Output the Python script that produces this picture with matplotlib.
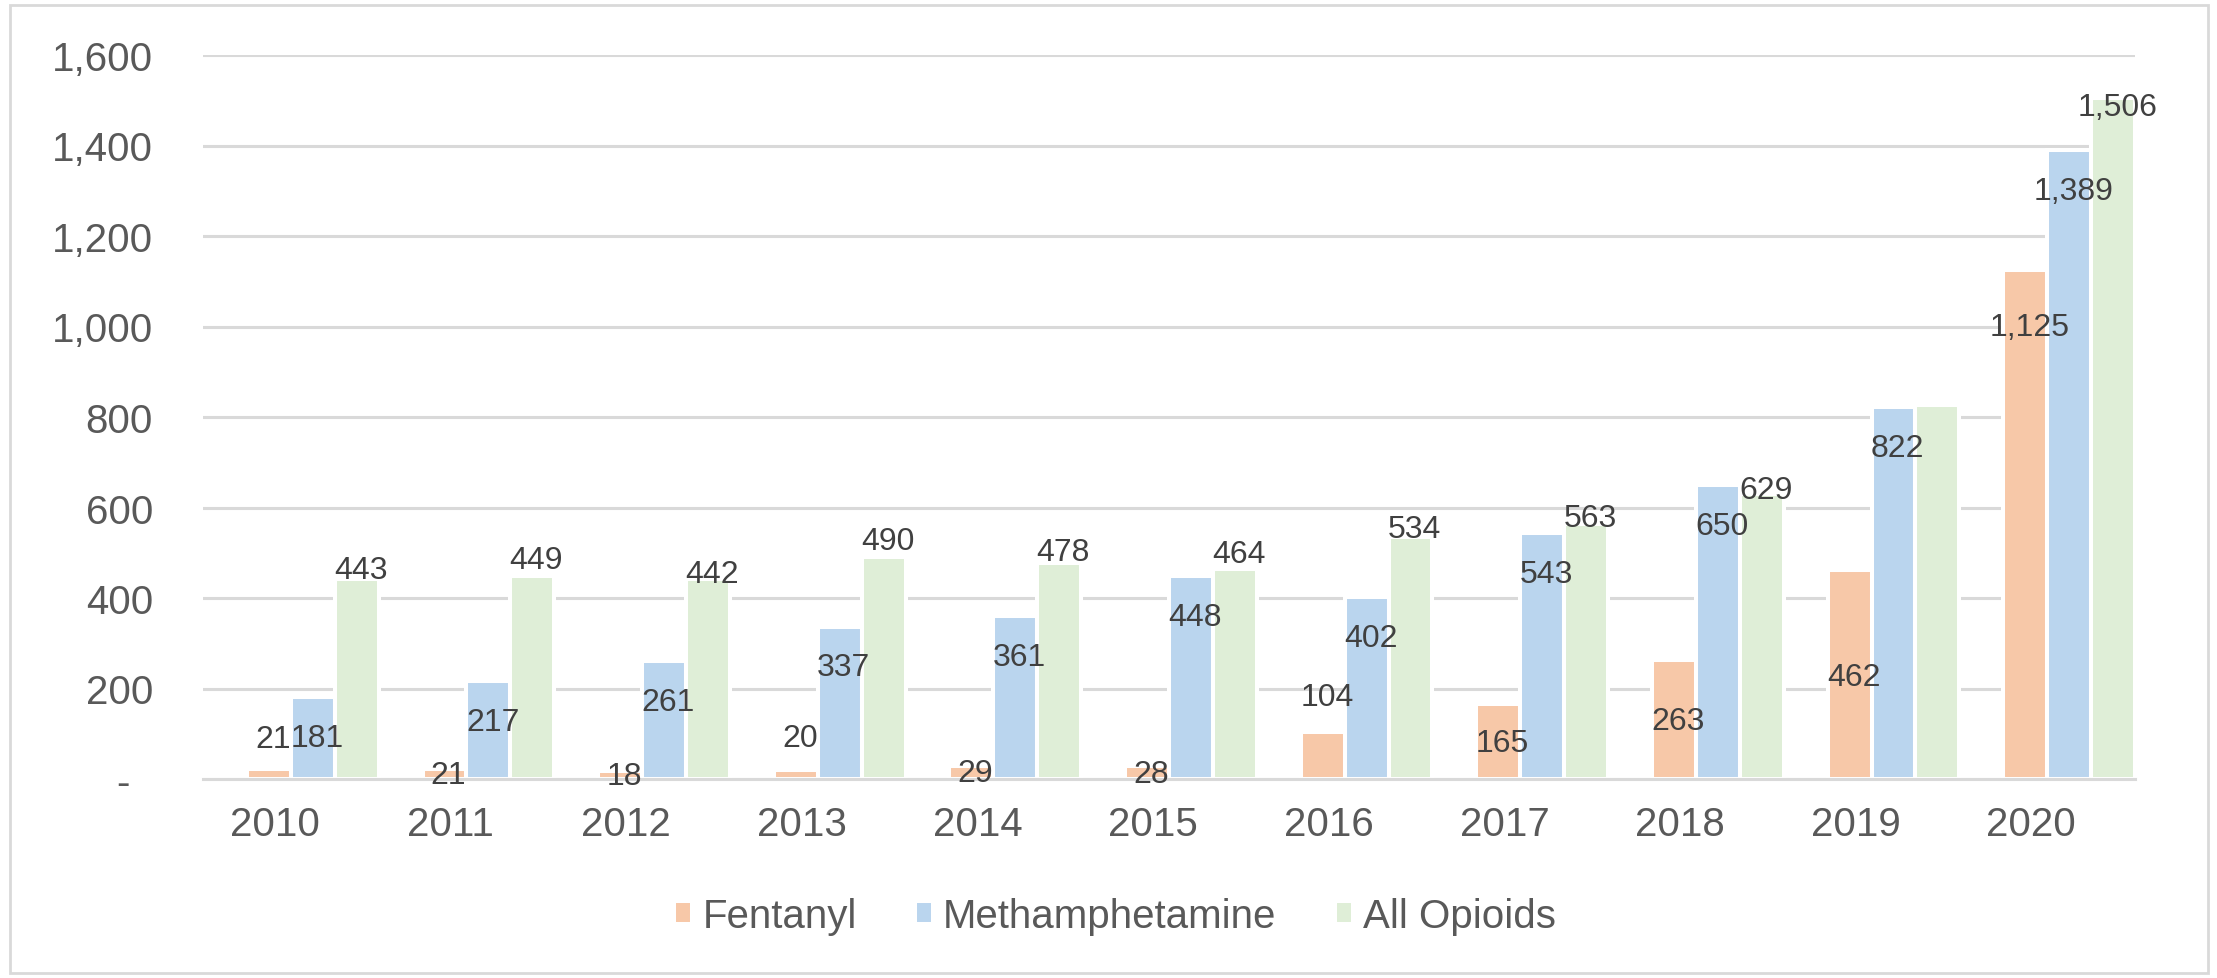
import numpy as np
import matplotlib
matplotlib.use("Agg")
import matplotlib.pyplot as plt
from matplotlib.ticker import FuncFormatter
from matplotlib.patches import Rectangle

plt.rcParams['font.family'] = ['Liberation Sans', 'DejaVu Sans']

# data
years = ['2010', '2011', '2012', '2013', '2014', '2015', '2016', '2017', '2018', '2019', '2020']
fentanyl = [21, 21, 18, 20, 29, 28, 104, 165, 263, 462, 1125]
meth = [181, 217, 261, 337, 361, 448, 402, 543, 650, 822, 1389]
opioids = [443, 449, 442, 490, 478, 464, 534, 563, 629, 826, 1506]
series_names = ['Fentanyl', 'Methamphetamine', 'All Opioids']

# label placement (points, relative to bar top) - mimics the hand placed labels
fent_dy = [22, -4, -4, 23, -5, -5.5, 25, -28, -44, -77, -41]
meth_dy = [-29.5] * 11
opi_dy = [6.5, 11.5, 3.5, 11.5, 8, 11, 6, 4.5, 3.5, None, -7]

colors = ['#F7C8A8', '#BAD5EE', '#DFEED7']
grid_c = '#D9D9D9'

fig = plt.figure(figsize=(22.17, 9.79), dpi=100)
ax = fig.add_axes([203 / 2217, 1 - 780 / 979, (2135 - 203) / 2217, (780 - 56) / 979])

x = np.arange(len(years))
w = 0.25
all_series = [fentanyl, meth, opioids]
all_dy = [fent_dy, meth_dy, opi_dy]
for k, (vals, dys) in enumerate(zip(all_series, all_dy)):
    xs = x - 0.125 + k * w
    ax.bar(xs, vals, width=w, color=colors[k], edgecolor='white', linewidth=2.9,
           label=series_names[k])
    for xi, v, dy in zip(xs, vals, dys):
        if dy is None:
            continue
        ax.annotate(f'{v:,}', xy=(xi, v), xytext=(3, dy), textcoords='offset points',
                    ha='center', va='center', fontsize=23, color='#404040')

ax.set_xlim(-0.5, len(years) - 0.5)
ax.set_ylim(0, 1600)
ax.set_yticks(np.arange(0, 1601, 200))
ax.yaxis.set_major_formatter(FuncFormatter(lambda v, p: '-  ' if v == 0 else f'{int(v):,}'))
ax.set_xticks(x - 0.09)
ax.set_xticklabels(years)
ax.tick_params(axis='both', length=0, labelsize=29, colors='#595959')
ax.tick_params(axis='y', pad=36)
ax.tick_params(axis='x', pad=19)

ax.set_axisbelow(True)
ax.grid(True, axis='y', color=grid_c, linewidth=2.2)
for s in ['top', 'right', 'left']:
    ax.spines[s].set_visible(False)
ax.spines['bottom'].set_color(grid_c)
ax.spines['bottom'].set_linewidth(2.2)

fig.legend(loc='center', bbox_to_anchor=(0.503, 0.0633), ncol=3, frameon=False,
           fontsize=29, labelcolor='#595959', handlelength=0.45, handleheight=0.5,
           handletextpad=0.25, columnspacing=1.45)

# outer chart frame
fig.patches.append(Rectangle((10 / 2217, 5 / 979), 2198 / 2217, 968 / 979,
                             transform=fig.transFigure, fill=False,
                             edgecolor=grid_c, linewidth=2))

fig.savefig('out.png', dpi=100)
